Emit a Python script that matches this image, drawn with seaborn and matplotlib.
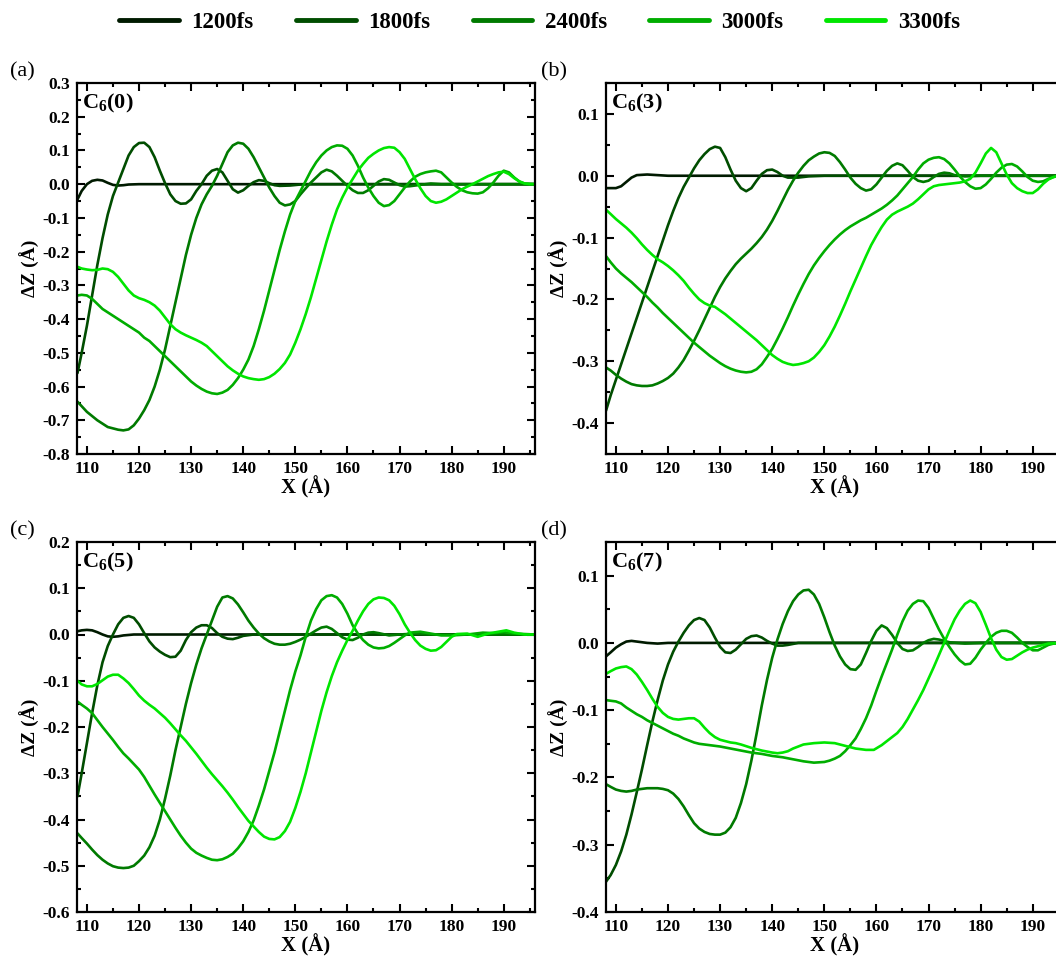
import matplotlib
matplotlib.use("Agg")
import matplotlib.pyplot as plt
from matplotlib.lines import Line2D
from matplotlib.ticker import MultipleLocator
import seaborn as sns
import pandas as pd

# ---------------- data ----------------
times = ["1200fs", "1800fs", "2400fs", "3000fs", "3300fs"]
colors = ["#001a00", "#004d00", "#007a00", "#00ad00", "#00e600"]
panel_tags = ["(a)", "(b)", "(c)", "(d)"]
panel_names = [r"$\mathbf{C_6(0)}$", r"$\mathbf{C_6(3)}$", r"$\mathbf{C_6(5)}$", r"$\mathbf{C_6(7)}$"]
ylims = [(-0.8, 0.3), (-0.45, 0.15), (-0.6, 0.2), (-0.4, 0.15)]
x_ticks = [110, 120, 130, 140, 150, 160, 170, 180, 190]

# panel (a) C6(0)
a_1200 = [(108.2, -0.045), (109, -0.02), (110, 0.0), (111, 0.01), (112, 0.013), (113, 0.011), (114, 0.004),
          (115, -0.002), (116, -0.004), (117, -0.003), (118, -0.001), (120, 0.0), (196, 0.0)]
a_1800 = [(108.2, -0.56), (109, -0.50), (110, -0.42), (111, -0.33), (112, -0.24), (113, -0.16), (114, -0.09),
          (115, -0.035), (116, 0.005), (117, 0.045), (118, 0.085), (119, 0.11), (120, 0.122), (121, 0.123),
          (122, 0.11), (123, 0.08), (124, 0.04), (125, 0.003), (126, -0.03), (127, -0.05), (128, -0.058),
          (129, -0.057), (130, -0.045), (131, -0.02), (132, 0.0), (133, 0.025), (134, 0.04), (135, 0.045),
          (136, 0.035), (137, 0.01), (138, -0.015), (139, -0.025), (140, -0.018), (141, -0.005), (142, 0.006),
          (143, 0.012), (144, 0.01), (145, 0.003), (146, -0.003), (147, -0.005), (149, -0.004), (151, -0.001),
          (153, 0.0), (196, 0.0)]
a_2400 = [(108.2, -0.645), (110, -0.675), (112, -0.70), (114, -0.72), (116, -0.728), (117, -0.73), (118, -0.727),
          (119, -0.715), (120, -0.695), (121, -0.67), (122, -0.64), (123, -0.60), (124, -0.55), (125, -0.49),
          (126, -0.42), (127, -0.35), (128, -0.28), (129, -0.21), (130, -0.15), (131, -0.10), (132, -0.06),
          (133, -0.03), (134, -0.005), (135, 0.025), (136, 0.06), (137, 0.095), (138, 0.115), (139, 0.123),
          (140, 0.12), (141, 0.105), (142, 0.08), (143, 0.05), (144, 0.02), (145, -0.01), (146, -0.035),
          (147, -0.055), (148, -0.063), (149, -0.06), (150, -0.05), (151, -0.03), (152, -0.012), (153, 0.005),
          (154, 0.02), (155, 0.035), (156, 0.043), (157, 0.038), (158, 0.025), (159, 0.01), (160, -0.005),
          (161, -0.018), (162, -0.026), (163, -0.026), (164, -0.018), (165, -0.005), (166, 0.008), (167, 0.015),
          (168, 0.013), (169, 0.005), (170, -0.003), (171, -0.007), (172, -0.006), (174, -0.002), (176, 0.002),
          (178, 0.0), (196, 0.0)]
a_3000 = [(108.2, -0.33), (109, -0.328), (110, -0.33), (111, -0.34), (112, -0.355), (113, -0.37), (114, -0.38),
          (115, -0.39), (116, -0.40), (117, -0.41), (118, -0.42), (119, -0.43), (120, -0.44), (121, -0.455),
          (122, -0.465), (123, -0.48), (124, -0.495), (125, -0.51), (126, -0.525), (127, -0.54), (128, -0.555),
          (129, -0.57), (130, -0.585), (131, -0.597), (132, -0.607), (133, -0.615), (134, -0.62), (135, -0.622),
          (136, -0.618), (137, -0.61), (138, -0.595), (139, -0.575), (140, -0.55), (141, -0.52), (142, -0.48),
          (143, -0.43), (144, -0.375), (145, -0.315), (146, -0.255), (147, -0.195), (148, -0.14), (149, -0.09),
          (150, -0.05), (151, -0.02), (152, 0.01), (153, 0.04), (154, 0.065), (155, 0.085), (156, 0.1),
          (157, 0.11), (158, 0.115), (159, 0.114), (160, 0.105), (161, 0.085), (162, 0.055), (163, 0.02),
          (164, -0.01), (165, -0.035), (166, -0.055), (167, -0.065), (168, -0.062), (169, -0.05), (170, -0.03),
          (171, -0.01), (172, 0.008), (173, 0.022), (174, 0.03), (175, 0.035), (176, 0.038), (177, 0.04),
          (178, 0.035), (179, 0.02), (180, 0.005), (181, -0.008), (182, -0.018), (183, -0.024), (184, -0.027),
          (185, -0.028), (186, -0.024), (187, -0.012), (188, 0.005), (189, 0.025), (190, 0.04), (191, 0.035),
          (192, 0.02), (193, 0.008), (194, 0.002), (196, 0.0)]
a_3300 = [(108.2, -0.245), (109, -0.25), (110, -0.253), (111, -0.255), (112, -0.254), (113, -0.25), (114, -0.252),
          (115, -0.26), (116, -0.275), (117, -0.295), (118, -0.315), (119, -0.33), (120, -0.338), (121, -0.343),
          (122, -0.35), (123, -0.36), (124, -0.375), (125, -0.395), (126, -0.415), (127, -0.43), (128, -0.44),
          (129, -0.448), (130, -0.455), (131, -0.462), (132, -0.47), (133, -0.48), (134, -0.495), (135, -0.51),
          (136, -0.525), (137, -0.54), (138, -0.552), (139, -0.562), (140, -0.57), (141, -0.575), (142, -0.578),
          (143, -0.58), (144, -0.578), (145, -0.572), (146, -0.562), (147, -0.548), (148, -0.53), (149, -0.505),
          (150, -0.47), (151, -0.43), (152, -0.385), (153, -0.335), (154, -0.28), (155, -0.225), (156, -0.17),
          (157, -0.12), (158, -0.075), (159, -0.04), (160, -0.01), (161, 0.015), (162, 0.04), (163, 0.06),
          (164, 0.078), (165, 0.09), (166, 0.1), (167, 0.107), (168, 0.11), (169, 0.108), (170, 0.095),
          (171, 0.075), (172, 0.045), (173, 0.015), (174, -0.012), (175, -0.035), (176, -0.05), (177, -0.055),
          (178, -0.052), (179, -0.045), (180, -0.035), (181, -0.025), (182, -0.015), (183, -0.007), (184, 0.0),
          (185, 0.008), (186, 0.016), (187, 0.024), (188, 0.03), (189, 0.035), (190, 0.037), (191, 0.03),
          (192, 0.018), (193, 0.008), (194, 0.002), (195, 0.0), (196, 0.0)]

# panel (b) C6(3)
b_1200 = [(108.1, -0.02), (110, -0.02), (111, -0.017), (112, -0.01), (113, -0.003), (114, 0.001), (116, 0.002),
          (118, 0.001), (120, 0.0), (196, 0.0)]
b_1800 = [(108.1, -0.38), (109, -0.355), (110, -0.33), (111, -0.305), (112, -0.28), (113, -0.255), (114, -0.23),
          (115, -0.205), (116, -0.18), (117, -0.155), (118, -0.13), (119, -0.105), (120, -0.08), (121, -0.057),
          (122, -0.036), (123, -0.018), (124, -0.003), (125, 0.012), (126, 0.025), (127, 0.035), (128, 0.043),
          (129, 0.047), (130, 0.045), (131, 0.03), (132, 0.01), (133, -0.008), (134, -0.02), (135, -0.025),
          (136, -0.02), (137, -0.008), (138, 0.003), (139, 0.009), (140, 0.01), (141, 0.006), (142, 0.0),
          (143, -0.003), (145, -0.003), (147, -0.001), (150, 0.0), (196, 0.0)]
b_2400 = [(108.1, -0.31), (109, -0.315), (110, -0.322), (111, -0.328), (112, -0.333), (113, -0.337), (114, -0.339),
          (115, -0.34), (116, -0.34), (117, -0.339), (118, -0.336), (119, -0.332), (120, -0.327), (121, -0.32),
          (122, -0.31), (123, -0.298), (124, -0.283), (125, -0.267), (126, -0.25), (127, -0.232), (128, -0.214),
          (129, -0.196), (130, -0.18), (131, -0.166), (132, -0.154), (133, -0.143), (134, -0.134), (135, -0.126),
          (136, -0.118), (137, -0.109), (138, -0.099), (139, -0.087), (140, -0.073), (141, -0.057), (142, -0.04),
          (143, -0.023), (144, -0.008), (145, 0.005), (146, 0.016), (147, 0.025), (148, 0.031), (149, 0.036),
          (150, 0.038), (151, 0.037), (152, 0.032), (153, 0.022), (154, 0.01), (155, -0.003), (156, -0.013),
          (157, -0.02), (158, -0.024), (159, -0.022), (160, -0.014), (161, -0.003), (162, 0.008), (163, 0.016),
          (164, 0.02), (165, 0.017), (166, 0.008), (167, -0.002), (168, -0.008), (169, -0.01), (170, -0.008),
          (171, -0.002), (172, 0.003), (173, 0.005), (174, 0.004), (175, 0.001), (177, -0.001), (180, 0.0),
          (196, 0.0)]
b_3000 = [(108.1, -0.13), (109, -0.14), (110, -0.15), (111, -0.158), (112, -0.165), (113, -0.172), (114, -0.18),
          (115, -0.188), (116, -0.196), (117, -0.205), (118, -0.213), (119, -0.222), (120, -0.23), (121, -0.238),
          (122, -0.246), (123, -0.254), (124, -0.262), (125, -0.27), (126, -0.277), (127, -0.284), (128, -0.291),
          (129, -0.297), (130, -0.303), (131, -0.308), (132, -0.312), (133, -0.315), (134, -0.317), (135, -0.318),
          (136, -0.317), (137, -0.313), (138, -0.305), (139, -0.293), (140, -0.28), (141, -0.264), (142, -0.247),
          (143, -0.229), (144, -0.21), (145, -0.192), (146, -0.175), (147, -0.159), (148, -0.145), (149, -0.133),
          (150, -0.122), (151, -0.112), (152, -0.103), (153, -0.095), (154, -0.088), (155, -0.082), (156, -0.077),
          (157, -0.072), (158, -0.068), (159, -0.063), (160, -0.058), (161, -0.053), (162, -0.047), (163, -0.04),
          (164, -0.032), (165, -0.022), (166, -0.012), (167, -0.002), (168, 0.01), (169, 0.02), (170, 0.026),
          (171, 0.029), (172, 0.03), (173, 0.027), (174, 0.02), (175, 0.01), (176, -0.001), (177, -0.01),
          (178, -0.017), (179, -0.021), (180, -0.02), (181, -0.014), (182, -0.005), (183, 0.005), (184, 0.013),
          (185, 0.018), (186, 0.019), (187, 0.015), (188, 0.007), (189, -0.002), (190, -0.008), (191, -0.01),
          (192, -0.009), (193, -0.005), (194, -0.002), (195, 0.0), (196, 0.0)]
b_3300 = [(108.1, -0.055), (109, -0.062), (110, -0.07), (111, -0.077), (112, -0.084), (113, -0.092),
          (114, -0.101), (115, -0.111), (116, -0.12), (117, -0.128), (118, -0.135), (119, -0.14), (120, -0.146),
          (121, -0.153), (122, -0.161), (123, -0.17), (124, -0.181), (125, -0.191), (126, -0.2), (127, -0.206),
          (128, -0.21), (129, -0.212), (130, -0.218), (131, -0.224), (132, -0.231), (133, -0.238), (134, -0.245),
          (135, -0.252), (136, -0.259), (137, -0.266), (138, -0.274), (139, -0.282), (140, -0.29), (141, -0.296),
          (142, -0.301), (143, -0.304), (144, -0.306), (145, -0.305), (146, -0.303), (147, -0.3), (148, -0.294),
          (149, -0.285), (150, -0.274), (151, -0.26), (152, -0.244), (153, -0.226), (154, -0.207), (155, -0.187),
          (156, -0.168), (157, -0.149), (158, -0.13), (159, -0.112), (160, -0.097), (161, -0.083), (162, -0.071),
          (163, -0.063), (164, -0.058), (165, -0.054), (166, -0.05), (167, -0.045), (168, -0.038), (169, -0.03),
          (170, -0.022), (171, -0.017), (172, -0.015), (173, -0.014), (174, -0.013), (175, -0.012),
          (176, -0.011), (177, -0.009), (178, -0.005), (179, 0.005), (180, 0.02), (181, 0.036), (182, 0.045),
          (183, 0.038), (184, 0.02), (185, 0.002), (186, -0.012), (187, -0.02), (188, -0.025), (189, -0.028),
          (190, -0.028), (191, -0.022), (192, -0.013), (193, -0.006), (194, -0.002), (195, 0.0), (196, 0.0)]

# panel (c) C6(5)
c_1200 = [(108.2, 0.007), (109, 0.009), (110, 0.01), (111, 0.009), (112, 0.005), (113, 0.0), (114, -0.004),
          (115, -0.005), (116, -0.004), (117, -0.002), (119, 0.0), (196, 0.0)]
c_1800 = [(108.2, -0.35), (109, -0.30), (110, -0.235), (111, -0.17), (112, -0.11), (113, -0.06), (114, -0.025),
          (115, 0.0), (116, 0.022), (117, 0.036), (118, 0.04), (119, 0.036), (120, 0.022), (121, 0.003),
          (122, -0.015), (123, -0.028), (124, -0.037), (125, -0.044), (126, -0.049), (127, -0.048), (128, -0.035),
          (129, -0.012), (130, 0.005), (131, 0.015), (132, 0.02), (133, 0.02), (134, 0.014), (135, 0.003),
          (136, -0.005), (137, -0.009), (138, -0.01), (139, -0.007), (140, -0.003), (142, 0.0), (196, 0.0)]
c_2400 = [(108.2, -0.43), (109, -0.44), (110, -0.452), (111, -0.465), (112, -0.477), (113, -0.487), (114, -0.495),
          (115, -0.501), (116, -0.504), (117, -0.505), (118, -0.504), (119, -0.5), (120, -0.49), (121, -0.478),
          (122, -0.46), (123, -0.435), (124, -0.4), (125, -0.355), (126, -0.305), (127, -0.25), (128, -0.2),
          (129, -0.15), (130, -0.105), (131, -0.065), (132, -0.03), (133, 0.0), (134, 0.03), (135, 0.06),
          (136, 0.08), (137, 0.083), (138, 0.078), (139, 0.065), (140, 0.048), (141, 0.03), (142, 0.015),
          (143, 0.002), (144, -0.008), (145, -0.015), (146, -0.02), (147, -0.022), (148, -0.022), (149, -0.02),
          (150, -0.016), (151, -0.011), (152, -0.005), (153, 0.002), (154, 0.009), (155, 0.015), (156, 0.017),
          (157, 0.012), (158, 0.003), (159, -0.006), (160, -0.011), (161, -0.012), (162, -0.007), (163, 0.0),
          (164, 0.004), (165, 0.005), (166, 0.003), (168, -0.002), (170, 0.0), (173, 0.002), (176, 0.0),
          (196, 0.0)]
c_3000 = [(108.2, -0.145), (109, -0.152), (110, -0.16), (111, -0.17), (112, -0.185), (113, -0.2), (114, -0.214),
          (115, -0.228), (116, -0.243), (117, -0.257), (118, -0.268), (119, -0.28), (120, -0.292), (121, -0.308),
          (122, -0.327), (123, -0.346), (124, -0.364), (125, -0.382), (126, -0.4), (127, -0.418), (128, -0.435),
          (129, -0.45), (130, -0.463), (131, -0.472), (132, -0.478), (133, -0.483), (134, -0.487), (135, -0.488),
          (136, -0.486), (137, -0.481), (138, -0.474), (139, -0.462), (140, -0.447), (141, -0.427),
          (142, -0.402), (143, -0.37), (144, -0.335), (145, -0.295), (146, -0.255), (147, -0.21), (148, -0.165),
          (149, -0.12), (150, -0.08), (151, -0.045), (152, -0.005), (153, 0.03), (154, 0.055), (155, 0.074),
          (156, 0.083), (157, 0.085), (158, 0.08), (159, 0.066), (160, 0.045), (161, 0.02), (162, 0.002),
          (163, -0.012), (164, -0.022), (165, -0.028), (166, -0.03), (167, -0.029), (168, -0.025), (169, -0.018),
          (170, -0.01), (171, -0.002), (172, 0.004), (174, 0.006), (176, 0.002), (178, -0.002), (180, -0.002),
          (183, 0.0), (186, 0.004), (188, 0.003), (190, 0.005), (192, 0.002), (196, 0.0)]
c_3300 = [(108.2, -0.1), (109, -0.108), (110, -0.112), (111, -0.112), (112, -0.107), (113, -0.099),
          (114, -0.091), (115, -0.087), (116, -0.087), (117, -0.095), (118, -0.105), (119, -0.118),
          (120, -0.132), (121, -0.143), (122, -0.152), (123, -0.16), (124, -0.17), (125, -0.18), (126, -0.192),
          (127, -0.205), (128, -0.218), (129, -0.23), (130, -0.244), (131, -0.258), (132, -0.273), (133, -0.288),
          (134, -0.302), (135, -0.315), (136, -0.328), (137, -0.342), (138, -0.357), (139, -0.373), (140, -0.388),
          (141, -0.403), (142, -0.415), (143, -0.427), (144, -0.437), (145, -0.442), (146, -0.443), (147, -0.438),
          (148, -0.425), (149, -0.405), (150, -0.375), (151, -0.34), (152, -0.3), (153, -0.255), (154, -0.21),
          (155, -0.165), (156, -0.125), (157, -0.09), (158, -0.06), (159, -0.035), (160, -0.012), (161, 0.008),
          (162, 0.03), (163, 0.05), (164, 0.066), (165, 0.076), (166, 0.08), (167, 0.079), (168, 0.074),
          (169, 0.062), (170, 0.044), (171, 0.022), (172, 0.004), (173, -0.012), (174, -0.024), (175, -0.031),
          (176, -0.035), (177, -0.034), (178, -0.027), (179, -0.016), (180, -0.005), (181, 0.001), (183, 0.002),
          (185, -0.005), (187, 0.002), (189, 0.006), (190.5, 0.009), (192, 0.004), (194, 0.0), (196, 0.0)]

# panel (d) C6(7)
d_1200 = [(108.1, -0.02), (109, -0.014), (110, -0.007), (111, -0.002), (112, 0.002), (113, 0.003), (114, 0.002),
          (116, 0.0), (118, -0.001), (120, 0.0), (196, 0.0)]
d_1800 = [(108.1, -0.355), (109, -0.345), (110, -0.33), (111, -0.31), (112, -0.285), (113, -0.255),
          (114, -0.222), (115, -0.188), (116, -0.152), (117, -0.117), (118, -0.085), (119, -0.056),
          (120, -0.032), (121, -0.013), (122, 0.002), (123, 0.015), (124, 0.026), (125, 0.034), (126, 0.037),
          (127, 0.034), (128, 0.023), (129, 0.008), (130, -0.006), (131, -0.014), (132, -0.015), (133, -0.01),
          (134, -0.002), (135, 0.006), (136, 0.01), (137, 0.011), (138, 0.008), (139, 0.003), (140, -0.001),
          (141, -0.004), (142, -0.004), (143, -0.003), (145, 0.0), (196, 0.0)]
d_2400 = [(108.1, -0.21), (109, -0.214), (110, -0.218), (111, -0.22), (112, -0.221), (113, -0.22),
          (114, -0.218), (115, -0.217), (116, -0.216), (117, -0.216), (118, -0.216), (119, -0.217),
          (120, -0.219), (121, -0.224), (122, -0.232), (123, -0.243), (124, -0.256), (125, -0.268),
          (126, -0.276), (127, -0.281), (128, -0.284), (129, -0.285), (130, -0.285), (131, -0.282),
          (132, -0.274), (133, -0.26), (134, -0.238), (135, -0.21), (136, -0.175), (137, -0.135), (138, -0.093),
          (139, -0.055), (140, -0.022), (141, 0.005), (142, 0.028), (143, 0.047), (144, 0.062), (145, 0.072),
          (146, 0.078), (147, 0.079), (148, 0.072), (149, 0.058), (150, 0.038), (151, 0.016), (152, -0.004),
          (153, -0.02), (154, -0.032), (155, -0.039), (156, -0.04), (157, -0.032), (158, -0.015), (159, 0.003),
          (160, 0.018), (161, 0.026), (162, 0.022), (163, 0.012), (164, 0.0), (165, -0.009), (166, -0.012),
          (167, -0.011), (168, -0.006), (169, 0.0), (170, 0.004), (171, 0.006), (172, 0.005), (174, 0.001),
          (177, -0.001), (180, 0.0), (196, 0.0)]
d_3000 = [(108.1, -0.085), (109, -0.086), (110, -0.087), (111, -0.09), (112, -0.096), (113, -0.101),
          (114, -0.106), (115, -0.11), (116, -0.115), (117, -0.119), (118, -0.123), (119, -0.127),
          (120, -0.131), (121, -0.135), (122, -0.138), (123, -0.142), (124, -0.145), (125, -0.148),
          (126, -0.15), (127, -0.151), (128, -0.152), (129, -0.153), (130, -0.154), (132, -0.157),
          (134, -0.16), (136, -0.163), (138, -0.165), (140, -0.168), (142, -0.17), (144, -0.173), (146, -0.176),
          (148, -0.178), (150, -0.177), (151, -0.175), (152, -0.172), (153, -0.168), (154, -0.161), (155, -0.152),
          (156, -0.142), (157, -0.128), (158, -0.112), (159, -0.093), (160, -0.071), (161, -0.05), (162, -0.03),
          (163, -0.01), (164, 0.012), (165, 0.032), (166, 0.048), (167, 0.058), (168, 0.063), (169, 0.062),
          (170, 0.052), (171, 0.036), (172, 0.02), (173, 0.006), (174, -0.006), (175, -0.017), (176, -0.026),
          (177, -0.032), (178, -0.031), (179, -0.022), (180, -0.01), (181, 0.0), (182, 0.009), (183, 0.015),
          (184, 0.018), (185, 0.018), (186, 0.015), (187, 0.008), (188, 0.0), (189, -0.006), (190, -0.011),
          (191, -0.011), (192, -0.007), (193, -0.003), (194, -0.001), (196, 0.0)]
d_3300 = [(108.1, -0.046), (109, -0.042), (110, -0.038), (111, -0.036), (112, -0.035), (113, -0.039),
          (114, -0.047), (115, -0.058), (116, -0.07), (117, -0.083), (118, -0.095), (119, -0.104),
          (120, -0.11), (121, -0.113), (122, -0.114), (123, -0.113), (124, -0.112), (125, -0.112),
          (126, -0.117), (127, -0.126), (128, -0.134), (129, -0.14), (130, -0.144), (131, -0.146),
          (132, -0.148), (133, -0.149), (134, -0.151), (136, -0.156), (138, -0.16), (140, -0.163), (141, -0.164),
          (142, -0.163), (143, -0.161), (144, -0.157), (145, -0.154), (146, -0.151), (148, -0.149), (150, -0.148),
          (152, -0.149), (154, -0.153), (156, -0.157), (158, -0.159), (159.5, -0.159), (161, -0.152),
          (162, -0.146), (163, -0.14), (164, -0.134), (165, -0.125), (166, -0.113), (167, -0.099), (168, -0.085),
          (169, -0.07), (170, -0.053), (171, -0.036), (172, -0.018), (173, 0.0), (174, 0.018), (175, 0.035),
          (176, 0.048), (177, 0.058), (178, 0.063), (179, 0.059), (180, 0.046), (181, 0.027), (182, 0.007),
          (183, -0.01), (184, -0.021), (185, -0.025), (186, -0.024), (187, -0.019), (188, -0.014), (189, -0.01),
          (190, -0.007), (191, -0.005), (192, -0.003), (193, -0.001), (196, 0.0)]

panels = [
    [a_1200, a_1800, a_2400, a_3000, a_3300],
    [b_1200, b_1800, b_2400, b_3000, b_3300],
    [c_1200, c_1800, c_2400, c_3000, c_3300],
    [d_1200, d_1800, d_2400, d_3000, d_3300],
]

# ---------------- style ----------------
sns.set_style("ticks")
plt.rcParams["font.family"] = ["Liberation Serif", "DejaVu Serif"]
plt.rcParams["font.weight"] = "bold"
plt.rcParams["axes.unicode_minus"] = False
plt.rcParams["mathtext.fontset"] = "custom"
plt.rcParams["mathtext.rm"] = "Liberation Serif"
plt.rcParams["mathtext.bf"] = "Liberation Serif:bold"
plt.rcParams["mathtext.it"] = "Liberation Serif:italic"
for key in ["text.color", "axes.labelcolor", "xtick.color", "ytick.color", "axes.edgecolor"]:
    plt.rcParams[key] = "black"

fig = plt.figure(figsize=(10.56, 9.58), dpi=100)

W = 458 / 1056
positions = [
    (77 / 1056, 1 - 454 / 958, W, 371 / 958),
    (606 / 1056, 1 - 454 / 958, W, 371 / 958),
    (77 / 1056, 1 - 912 / 958, W, 370 / 958),
    (606 / 1056, 1 - 912 / 958, W, 370 / 958),
]
tag_pos = [(0.009, 0.925), (0.512, 0.925), (0.009, 0.446), (0.512, 0.446)]
palette = dict(zip(times, colors))

for i in range(4):
    ax = fig.add_axes(positions[i])
    rows = []
    for t, series in zip(times, panels[i]):
        for x, y in series:
            rows.append({"x": x, "dz": y, "time": t})
    df = pd.DataFrame(rows)
    sns.lineplot(data=df, x="x", y="dz", hue="time", hue_order=times, palette=palette,
                 estimator=None, sort=True, linewidth=1.9, legend=False, ax=ax)
    ax.set_xlim(108.1, 196)
    ax.set_ylim(*ylims[i])
    ax.set_xticks(x_ticks)
    ax.xaxis.set_minor_locator(MultipleLocator(5))
    ax.yaxis.set_major_locator(MultipleLocator(0.1))
    ax.yaxis.set_minor_locator(MultipleLocator(0.05))
    ax.yaxis.set_major_formatter(matplotlib.ticker.FormatStrFormatter("%.1f"))
    ax.tick_params(which="both", direction="in", top=True, right=True, width=1.5, colors="black")
    ax.tick_params(which="major", length=6, labelsize=12.5, pad=5)
    ax.tick_params(which="minor", length=3)
    for lab in ax.get_xticklabels() + ax.get_yticklabels():
        lab.set_fontweight("bold")
    for sp in ax.spines.values():
        sp.set_linewidth(1.6)
        sp.set_color("black")
    ax.set_xlabel("X (Å)", fontsize=15, fontweight="bold", labelpad=-1)
    ax.set_ylabel("ΔZ (Å)", fontsize=14, fontweight="bold", labelpad=2)
    ax.text(0.012, 0.975, panel_names[i], transform=ax.transAxes, ha="left", va="top", fontsize=16)
    fig.text(tag_pos[i][0], tag_pos[i][1], panel_tags[i], fontsize=16, fontweight="normal",
             ha="left", va="center")

handles = [Line2D([0], [0], color=c, lw=3.5) for c in colors]
fig.legend(handles, times, loc="center", bbox_to_anchor=(0.511, 0.977), ncol=5, frameon=False,
           prop={"family": "Liberation Serif", "weight": "bold", "size": 16.5},
           handlelength=2.6, handletextpad=0.55, columnspacing=1.85)

fig.savefig("out.png", dpi=100)
